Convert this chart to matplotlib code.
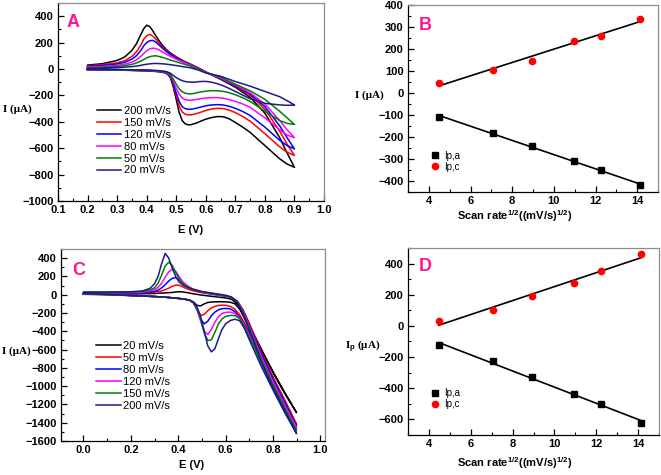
import numpy as np
import matplotlib
matplotlib.use("Agg")
import matplotlib.pyplot as plt
from matplotlib.ticker import MultipleLocator, FormatStrFormatter

plt.rcParams['font.family'] = ['Liberation Sans', 'DejaVu Sans']
plt.rcParams['mathtext.fontset'] = 'custom'
plt.rcParams['mathtext.rm'] = 'Liberation Sans'
plt.rcParams['mathtext.bf'] = 'Liberation Sans:bold'
plt.rcParams['mathtext.it'] = 'Liberation Sans:italic'

# ---------------- Panel A data ----------------
A_labels = ["200 mV/s", "150 mV/s", "120 mV/s", "80 mV/s", "50 mV/s", "20 mV/s"]
A_colors = ["#000000", "#ff0000", "#0000ff", "#ff00ff", "#008000", "#1a1a8c"]
A_E_up = [0.2, 0.25, 0.3, 0.325, 0.35, 0.365, 0.38, 0.39, 0.4, 0.41, 0.42, 0.43, 0.44, 0.45,
          0.465, 0.48, 0.5, 0.525, 0.55, 0.575, 0.6, 0.625, 0.65, 0.7, 0.75, 0.8, 0.85, 0.875, 0.9]
A_up = [
    [30, 40, 65, 90, 140, 190, 260, 305, 332, 322, 292, 255, 220, 190, 150, 122, 92, 60, 35, 8, -22, -50, -78, -138, -215, -335, -520, -635, -745],
    [25, 32, 47, 62, 95, 130, 180, 225, 252, 262, 250, 228, 200, 175, 142, 115, 88, 58, 33, 6, -22, -50, -75, -130, -200, -305, -470, -570, -655],
    [20, 26, 38, 50, 75, 100, 140, 175, 200, 214, 217, 205, 185, 165, 135, 110, 83, 55, 30, 4, -24, -48, -72, -125, -190, -285, -430, -520, -605],
    [15, 19, 28, 36, 52, 68, 95, 118, 138, 152, 158, 155, 146, 134, 114, 96, 74, 50, 27, 2, -25, -47, -68, -120, -180, -265, -390, -460, -520],
    [10, 13, 20, 25, 35, 45, 60, 72, 84, 93, 98, 100, 96, 90, 80, 68, 55, 38, 20, -2, -27, -45, -62, -115, -165, -230, -320, -370, -420],
    [5, 7, 11, 14, 18, 22, 28, 32, 36, 39, 41, 42, 41, 40, 37, 33, 26, 17, 8, -8, -30, -42, -55, -95, -130, -170, -210, -240, -272],
]
A_E_low = [0.2, 0.3, 0.4, 0.44, 0.46, 0.47, 0.48, 0.49, 0.5, 0.51, 0.52, 0.53, 0.54, 0.55, 0.56,
           0.57, 0.58, 0.6, 0.62, 0.64, 0.66, 0.68, 0.7, 0.725, 0.75, 0.8, 0.85, 0.875, 0.9]
A_low = [
    [-5, -8, -14, -20, -28, -38, -65, -135, -230, -330, -390, -415, -423, -422, -415, -408, -398, -380, -368, -360, -362, -378, -405, -440, -480, -580, -680, -720, -745],
    [-5, -7, -13, -19, -26, -35, -60, -120, -200, -280, -325, -342, -348, -347, -343, -337, -330, -314, -303, -298, -300, -312, -330, -360, -395, -490, -590, -630, -655],
    [-5, -7, -12, -18, -25, -33, -55, -110, -180, -245, -285, -300, -305, -305, -301, -296, -290, -279, -272, -270, -273, -283, -298, -322, -352, -440, -540, -580, -605],
    [-4, -6, -10, -16, -22, -30, -48, -90, -145, -190, -220, -232, -236, -236, -234, -230, -226, -220, -217, -217, -222, -232, -245, -265, -290, -370, -460, -500, -520],
    [-3, -5, -9, -14, -20, -27, -42, -75, -115, -150, -172, -183, -188, -188, -185, -180, -175, -168, -164, -165, -170, -180, -195, -218, -245, -320, -390, -412, -420],
    [-2, -4, -8, -12, -17, -22, -32, -48, -65, -78, -88, -95, -98, -100, -100, -98, -95, -94, -100, -112, -128, -148, -170, -198, -225, -260, -272, -275, -274],
]

# ---------------- Panel C data ----------------
C_labels = ["20 mV/s", "50 mV/s", "80 mV/s", "120 mV/s", "150 mV/s", "200 mV/s"]
C_colors = ["#000000", "#ff0000", "#0000ff", "#ff00ff", "#008000", "#1a1a8c"]
C_E_up = [0.0, 0.1, 0.2, 0.25, 0.28, 0.3, 0.315, 0.33, 0.345, 0.36, 0.375, 0.39, 0.405, 0.42,
          0.44, 0.46, 0.5, 0.55, 0.6, 0.625, 0.65, 0.675, 0.7, 0.75, 0.8, 0.85, 0.9]
C_up = [
    [5, 5, 8, 10, 12, 14, 16, 18, 20, 22, 25, 30, 33, 30, 22, 12, -5, -20, -35, -50, -100, -200, -330, -590, -840, -1070, -1290],
    [10, 10, 13, 18, 22, 28, 33, 42, 55, 72, 92, 105, 102, 85, 62, 45, 22, 2, -15, -30, -70, -170, -310, -620, -895, -1150, -1420],
    [15, 15, 17, 22, 30, 38, 50, 75, 110, 150, 180, 186, 165, 125, 85, 60, 28, 5, -15, -30, -75, -180, -330, -640, -920, -1175, -1440],
    [20, 20, 22, 30, 42, 55, 80, 125, 190, 250, 278, 255, 195, 140, 95, 65, 30, 8, -15, -30, -78, -190, -345, -670, -950, -1205, -1460],
    [25, 25, 28, 36, 52, 75, 125, 215, 315, 355, 320, 240, 170, 120, 88, 62, 32, 10, -12, -28, -80, -200, -360, -700, -980, -1235, -1490],
    [30, 30, 32, 42, 68, 120, 200, 340, 452, 400, 290, 195, 135, 105, 80, 60, 35, 15, -5, -25, -85, -210, -380, -730, -1010, -1265, -1520],
]
C_E_low = [0.0, 0.1, 0.2, 0.3, 0.35, 0.4, 0.43, 0.45, 0.465, 0.48, 0.495, 0.51, 0.525, 0.54,
           0.555, 0.57, 0.585, 0.6, 0.62, 0.64, 0.66, 0.68, 0.7, 0.75, 0.8, 0.85, 0.9]
C_low = [
    [5, 0, -10, -20, -28, -40, -50, -62, -80, -118, -122, -100, -85, -80, -78, -77, -77, -78, -82, -100, -160, -260, -370, -600, -850, -1080, -1290],
    [8, 2, -8, -20, -28, -40, -50, -62, -90, -160, -228, -215, -175, -145, -128, -118, -114, -116, -128, -160, -220, -310, -400, -650, -920, -1170, -1420],
    [10, 3, -8, -20, -28, -40, -50, -62, -90, -170, -270, -318, -290, -230, -190, -165, -153, -150, -156, -185, -245, -330, -420, -680, -950, -1200, -1440],
    [12, 4, -8, -20, -28, -40, -50, -62, -90, -160, -290, -400, -435, -380, -300, -240, -205, -193, -190, -205, -255, -340, -440, -710, -980, -1230, -1460],
    [14, 5, -8, -20, -28, -40, -50, -62, -88, -150, -270, -420, -500, -495, -410, -320, -265, -237, -226, -228, -262, -350, -460, -740, -1010, -1260, -1490],
    [15, 5, -8, -20, -28, -40, -50, -62, -85, -140, -240, -400, -560, -625, -590, -480, -380, -320, -282, -268, -285, -370, -490, -780, -1040, -1290, -1520],
]

# ---------------- Panel B / D data ----------------
sqrt_rate = [4.47, 7.07, 8.94, 10.95, 12.25, 14.14]
B_ipa = [-108, -182, -240, -310, -350, -420]
B_ipc = [45, 105, 147, 238, 260, 335]
D_ipa = [-125, -228, -328, -435, -503, -625]
D_ipc = [30, 105, 190, 275, 355, 460]

W, H = 661, 475
fig = plt.figure(figsize=(W / 100, H / 100), dpi=100)

TICK_FS = 8
LAB_FS = 8


def px_axes(l, t, r, b):
    return fig.add_axes([l / W, 1 - b / H, (r - l) / W, (b - t) / H])


def style(ax):
    ax.tick_params(which='both', direction='in', top=False, right=False,
                   labelsize=TICK_FS, pad=3)
    ax.tick_params(which='major', length=4, width=0.9)
    ax.tick_params(which='minor', length=2, width=0.8)
    for lab in ax.get_xticklabels() + ax.get_yticklabels():
        lab.set_fontweight('bold')
    for s in ['top', 'right']:
        ax.spines[s].set_color('#8c8c8c')
        ax.spines[s].set_linewidth(0.9)
    for s in ['left', 'bottom']:
        ax.spines[s].set_linewidth(0.9)


def ftext(x, y, s, **kw):
    fig.text(x / W, 1 - y / H, s, ha='center', va='center', **kw)


letter_kw = dict(color='#ff1493', fontsize=13, fontweight='bold', ha='center', va='center')
cv_leg = dict(loc='upper left', frameon=False, fontsize=8, handlelength=2.2,
              handletextpad=0.25, labelspacing=0.17, borderpad=0, borderaxespad=0)
pt_leg = dict(loc='upper left', frameon=False, fontsize=7, handlelength=1.0,
              handletextpad=0.4, labelspacing=0.1, borderpad=0, borderaxespad=0)

# ---- Panel A ----
axA = px_axes(58, 3, 324, 201)
for up, low, c, lab in zip(A_up, A_low, A_colors, A_labels):
    E = list(A_E_low) + list(A_E_up[::-1]) + [A_E_low[0]]
    I = list(low) + list(up[::-1]) + [low[0]]
    axA.plot(E, I, color=c, lw=1.1, label=lab)
axA.set_xlim(0.1, 1.0)
axA.set_ylim(-1000, 500)
axA.xaxis.set_major_locator(MultipleLocator(0.1))
axA.xaxis.set_minor_locator(MultipleLocator(0.05))
axA.set_yticks(np.arange(-1000, 401, 200))
axA.yaxis.set_minor_locator(MultipleLocator(100))
axA.xaxis.set_major_formatter(FormatStrFormatter('%.1f'))
style(axA)
axA.legend(bbox_to_anchor=(0.145, 0.48), **cv_leg)
axA.text(0.058, 0.9, 'A', transform=axA.transAxes, **letter_kw)
ftext(191, 230, 'E (V)', fontsize=LAB_FS, fontweight='bold')
ftext(17, 109, 'I (μA)', fontsize=LAB_FS, fontweight='bold', family='Liberation Serif')

# ---- Panel B ----
axB = px_axes(408, 5, 658, 192)
xs = np.array(sqrt_rate)
for y in [B_ipa, B_ipc]:
    k, b0 = np.polyfit(xs, y, 1)
    axB.plot([xs[0], xs[-1]], [k * xs[0] + b0, k * xs[-1] + b0], color='black', lw=1.2)
for y, c, m, ms, lab in [(B_ipa, 'black', 's', 3.8, 'Ip,a'), (B_ipc, 'red', 'o', 4.5, 'Ip,c')]:
    axB.plot(xs, y, ls='none', marker=m, color=c, ms=ms, label=lab)
axB.set_xlim(3, 15)
axB.set_ylim(-450, 400)
axB.xaxis.set_major_locator(MultipleLocator(2))
axB.xaxis.set_minor_locator(MultipleLocator(1))
axB.yaxis.set_major_locator(MultipleLocator(100))
axB.yaxis.set_minor_locator(MultipleLocator(50))
style(axB)
axB.legend(bbox_to_anchor=(0.09, 0.22), **pt_leg)
axB.text(0.068, 0.893, 'B', transform=axB.transAxes, **letter_kw)
ftext(515, 216, r'Scan rate$^{\mathbf{1/2}}$((mV/s)$^{\mathbf{1/2}}$)', fontsize=LAB_FS, fontweight='bold')
ftext(369, 95, 'I (μA)', fontsize=LAB_FS, fontweight='bold', family='Liberation Serif')

# ---- Panel C ----
axC = px_axes(61, 249, 325, 441)
for up, low, c, lab in zip(C_up, C_low, C_colors, C_labels):
    E = list(C_E_low) + list(C_E_up[::-1]) + [C_E_low[0]]
    I = list(low) + list(up[::-1]) + [low[0]]
    axC.plot(E, I, color=c, lw=1.1, label=lab)
axC.set_xlim(-0.095, 1.02)
axC.set_ylim(-1600, 500)
axC.xaxis.set_major_locator(MultipleLocator(0.2))
axC.xaxis.set_minor_locator(MultipleLocator(0.1))
axC.set_yticks(np.arange(-1600, 401, 200))
axC.yaxis.set_minor_locator(MultipleLocator(100))
axC.xaxis.set_major_formatter(FormatStrFormatter('%.1f'))
style(axC)
axC.legend(bbox_to_anchor=(0.133, 0.52), **cv_leg)
axC.text(0.066, 0.89, 'C', transform=axC.transAxes, **letter_kw)
ftext(192, 465, 'E (V)', fontsize=LAB_FS, fontweight='bold')
ftext(16, 351, 'I (μA)', fontsize=LAB_FS, fontweight='bold', family='Liberation Serif')

# ---- Panel D ----
axD = px_axes(408, 248, 659, 435)
for y in [D_ipa, D_ipc]:
    k, b0 = np.polyfit(xs, y, 1)
    axD.plot([xs[0], xs[-1]], [k * xs[0] + b0, k * xs[-1] + b0], color='black', lw=1.2)
for y, c, m, ms, lab in [(D_ipa, 'black', 's', 3.8, 'Ip,a'), (D_ipc, 'red', 'o', 4.5, 'Ip,c')]:
    axD.plot(xs, y, ls='none', marker=m, color=c, ms=ms, label=lab)
axD.set_xlim(3, 15)
axD.set_ylim(-700, 500)
axD.xaxis.set_major_locator(MultipleLocator(2))
axD.xaxis.set_minor_locator(MultipleLocator(1))
axD.set_yticks(np.arange(-600, 401, 200))
axD.yaxis.set_minor_locator(MultipleLocator(100))
style(axD)
axD.legend(bbox_to_anchor=(0.09, 0.25), **pt_leg)
axD.text(0.068, 0.9, 'D', transform=axD.transAxes, **letter_kw)
ftext(515, 463, r'Scan rate$^{\mathbf{1/2}}$((mV/s)$^{\mathbf{1/2}}$)', fontsize=LAB_FS, fontweight='bold')
ftext(363, 347, r'I$_{\mathbf{p}}$ (μA)', fontsize=LAB_FS, fontweight='bold', family='Liberation Serif')

fig.savefig('out.png', dpi=100)
